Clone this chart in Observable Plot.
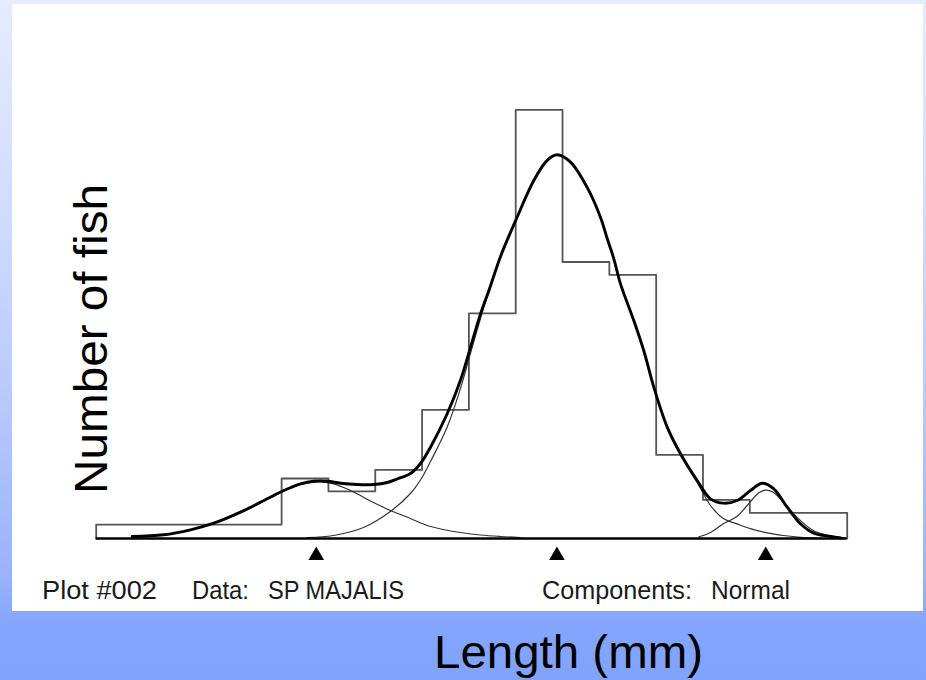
<!DOCTYPE html>
<html>
<head>
<meta charset="utf-8">
<script src="https://cdn.jsdelivr.net/npm/d3@7"></script>
<script src="https://cdn.jsdelivr.net/npm/@observablehq/plot@0.6"></script>
<style>
  html, body { margin: 0; padding: 0; }
  body {
    width: 926px; height: 680px; overflow: hidden; position: relative;
    background: linear-gradient(to bottom, #e6ebfe 0%, #d2dcfd 30%, #b6c8fc 60%, #98b2fc 85%, #84a5fc 92%, #82a3fb 100%);
    font-family: "Liberation Sans", Arial, sans-serif;
  }
  #panel { position: absolute; left: 12px; top: 4px; width: 911px; height: 607px; background: #fff; }
  #chart { position: absolute; left: 0; top: 0; }
  #labels { position: absolute; left: 0; top: 0; pointer-events: none; }
</style>
</head>
<body>
<div id="panel"></div>
<div id="chart"></div>
<svg id="labels" width="926" height="680" xmlns="http://www.w3.org/2000/svg">
  <text x="107" y="494" transform="rotate(-90 107 494)" font-size="46" textLength="310" lengthAdjust="spacingAndGlyphs" fill="#000">Number of fish</text>
  <text x="434" y="668" font-size="46" textLength="269" lengthAdjust="spacingAndGlyphs" fill="#000">Length (mm)</text>
  <text x="42" y="599" font-size="26" textLength="115" lengthAdjust="spacingAndGlyphs" fill="#1a1a1a">Plot #002</text>
  <text x="192" y="599" font-size="26" textLength="57" lengthAdjust="spacingAndGlyphs" fill="#1a1a1a">Data:</text>
  <text x="268" y="599" font-size="26" textLength="136" lengthAdjust="spacingAndGlyphs" fill="#1a1a1a">SP MAJALIS</text>
  <text x="542" y="599" font-size="26" textLength="150" lengthAdjust="spacingAndGlyphs" fill="#1a1a1a">Components:</text>
  <text x="711" y="599" font-size="26" textLength="79" lengthAdjust="spacingAndGlyphs" fill="#1a1a1a">Normal</text>
</svg>
<script>
// Histogram (length classes, mm) and heights (fish per class width)
const binEdges  = [20.2, 40, 45, 50, 55, 60, 65, 70, 75, 80, 85, 90, 100.4];
const binCounts = [3.25, 14, 11, 16, 30, 52.5, 100, 64.5, 61.5, 19.5, 9, 6];

// Fitted mixture (thick curve)
const fitLength = [24.04, 27.42, 30.27, 32.76, 35.61, 38.46, 40.23, 42.02, 43.44, 44.87, 46.29, 48.07, 49.85, 51.28, 52.34, 53.76, 54.83, 55.9, 57.68, 59.1, 60.17, 61.24, 62.13, 63.38, 65.16, 66.93, 68.36, 69.43, 70.85, 72.63, 74.05, 74.77, 75.47, 76.19, 77.61, 78.68, 79.75, 81.18, 82.6, 84.38, 85.8, 87.22, 88.65, 90.07, 91.32, 92.56, 93.99, 95.41, 96.83, 98.62, 99.68];
const fitCount  = [0.47, 0.86, 2.03, 3.57, 6.14, 9.26, 11.2, 12.76, 13.37, 13.37, 12.9, 12.6, 12.6, 13.06, 13.88, 15.16, 17.5, 21.3, 29.1, 36.9, 44.6, 52.4, 57.8, 65.8, 75.0, 83.5, 88.2, 89.5, 87.8, 81.9, 74.95, 69.98, 65.3, 59.4, 50.85, 43.8, 35.3, 25.97, 19.75, 13.5, 9.26, 8.24, 8.86, 11.2, 12.9, 11.6, 7.3, 3.45, 1.24, 0.47, 0.12];

// Component 1 (left)
const comp1Length = [24.04, 27.42, 30.27, 32.76, 35.61, 38.46, 40.23, 42.02, 43.73, 45.54, 47.36, 49.81, 51.62, 53.76, 55.55, 57.5, 59.1, 61.24, 63.38, 65.51];
const comp1Count  = [0.47, 0.86, 2.03, 3.57, 6.11, 9.1, 11.1, 12.6, 13.2, 12.76, 11.2, 8.4, 6.53, 4.67, 3.03, 1.98, 1.4, 0.82, 0.47, 0.23];

// Component 2 (middle)
const comp2Length = [42.73, 45.54, 48.75, 51.62, 53.76, 54.83, 55.9, 57.68, 59.1, 60.17, 61.24, 62.13, 63.38, 65.16, 66.93, 68.36, 69.43, 70.85, 72.63, 74.05, 74.77, 75.47, 76.19, 77.61, 78.68, 79.75, 81.18, 82.6, 84.38, 85.8, 87.22, 88.65, 90.07, 91.86, 93.6, 95.41, 97.55];
const comp2Count  = [0.23, 0.7, 2.57, 6.3, 10.5, 13.65, 17.96, 26.0, 35.0, 43.2, 51.3, 57.7, 65.7, 75.0, 83.5, 88.2, 89.5, 87.8, 81.9, 74.9, 69.98, 65.3, 59.5, 50.9, 43.9, 35.4, 25.9, 19.4, 13.1, 7.7, 4.6, 3.4, 2.3, 1.3, 0.7, 0.28, 0.12];

// Component 3 (right)
const comp3Length = [84.52, 85.8, 87.22, 88.65, 90.07, 90.93, 91.68, 92.42, 93.63, 95.06, 96.83, 98.62, 100.22];
const comp3Count  = [0.35, 1.4, 3.5, 5.2, 8.6, 10.6, 11.3, 10.9, 8.4, 4.9, 1.8, 0.6, 0.12];

// Component means (triangles)
const componentMeans = [43.7, 69.4, 91.7];

const zip = (xs, ys) => xs.map((x, i) => ({length: x, count: ys[i]}));

const steps = [{length: binEdges[0], count: 0}]
  .concat(binCounts.map((c, i) => ({length: binEdges[i], count: c})))
  .concat([{length: binEdges[binEdges.length - 1], count: binCounts[binCounts.length - 1]},
           {length: binEdges[binEdges.length - 1], count: 0}]);

const chart = Plot.plot({
  width: 926,
  height: 612,
  marginLeft: 95.7,
  marginRight: 79.3,
  marginTop: 109.3,
  marginBottom: 74,
  x: {domain: [binEdges[0], binEdges[binEdges.length - 1]], axis: null},
  y: {domain: [0, 100], axis: null},
  style: {background: "transparent", overflow: "visible"},
  marks: [
    Plot.line(steps, {x: "length", y: "count", curve: "step-after", stroke: "#555", strokeWidth: 1.8}),
    Plot.line(zip(comp1Length, comp1Count), {x: "length", y: "count", curve: "catmull-rom", stroke: "#333", strokeWidth: 1.2}),
    Plot.line(zip(comp2Length, comp2Count), {x: "length", y: "count", curve: "catmull-rom", stroke: "#333", strokeWidth: 1.2}),
    Plot.line(zip(comp3Length, comp3Count), {x: "length", y: "count", curve: "catmull-rom", stroke: "#333", strokeWidth: 1.2}),
    Plot.line(zip(fitLength, fitCount), {x: "length", y: "count", curve: "catmull-rom", stroke: "#000", strokeWidth: 2.9}),
    Plot.ruleY([0], {stroke: "#000", strokeWidth: 2.6}),
    Plot.dot(componentMeans.map(m => ({length: m, count: 0})), {x: "length", y: "count", dy: 17, symbol: "triangle", r: 5.8, fill: "#000", stroke: "none"})
  ]
});
document.getElementById("chart").appendChild(chart);
</script>
</body>
</html>
